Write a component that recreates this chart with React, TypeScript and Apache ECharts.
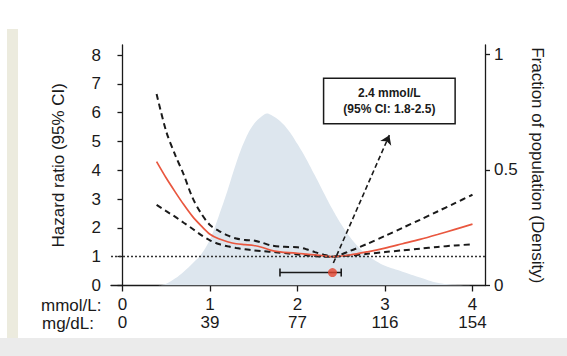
import React, { useEffect, useRef } from "react";
import * as echarts from "echarts";

const FONT = '"Liberation Sans", Arial, Helvetica, sans-serif';
const INK = "#1a1a1a";

// spline curves (mmol/L vs hazard ratio)
const curveX = [0.39, 0.5, 0.6, 0.7, 0.8, 0.9, 1.0, 1.1, 1.2, 1.3, 1.4, 1.5, 1.6, 1.7, 1.8, 1.9, 2.0, 2.1, 2.2, 2.3, 2.4, 2.6, 2.8, 3.0, 3.2, 3.4, 3.6, 3.8, 4.0];
const hrMid = [4.3, 3.73, 3.26, 2.81, 2.4, 2.07, 1.78, 1.62, 1.52, 1.45, 1.42, 1.39, 1.32, 1.22, 1.17, 1.14, 1.12, 1.09, 1.06, 1.03, 1.0, 1.06, 1.17, 1.3, 1.45, 1.6, 1.77, 1.95, 2.13];
const hrUpper = [6.65, 5.35, 4.55, 3.85, 3.05, 2.5, 2.1, 1.9, 1.74, 1.63, 1.58, 1.56, 1.48, 1.39, 1.35, 1.34, 1.33, 1.26, 1.16, 1.07, 1.0, 1.2, 1.45, 1.72, 2.0, 2.28, 2.57, 2.86, 3.15];
const hrLower = [2.8, 2.58, 2.39, 2.18, 1.97, 1.75, 1.57, 1.44, 1.36, 1.3, 1.26, 1.22, 1.19, 1.17, 1.14, 1.11, 1.08, 1.05, 1.02, 1.0, 1.0, 1.04, 1.1, 1.16, 1.22, 1.28, 1.34, 1.39, 1.43];

// population density
const densityX = [0.4, 0.5, 0.6, 0.7, 0.8, 0.9, 1.0, 1.1, 1.2, 1.3, 1.4, 1.5, 1.6, 1.65, 1.7, 1.8, 1.9, 2.0, 2.1, 2.2, 2.3, 2.4, 2.5, 2.6, 2.7, 2.8, 2.9, 3.0, 3.2, 3.4, 3.6, 3.8, 4.0];
const densityY = [0, 0.008, 0.03, 0.06, 0.095, 0.135, 0.2, 0.3, 0.41, 0.53, 0.63, 0.698, 0.735, 0.745, 0.738, 0.712, 0.67, 0.612, 0.548, 0.476, 0.402, 0.33, 0.265, 0.21, 0.165, 0.13, 0.105, 0.085, 0.06, 0.035, 0.012, 0.003, 0];

// ticks
const xTicks = [0, 1, 2, 3, 4];
const mgdlLabels = ["0", "39", "77", "116", "154"];
const yTicks = [0, 1, 2, 3, 4, 5, 6, 7, 8];
const densityTicks = [0, 0.5, 1];

// optimum estimate and annotation
const optimum = 2.4;
const ciLow = 1.8;
const ciHigh = 2.5;
const markerLevel = 0.45;
const arrowFrom = [2.41, 0.78];
const arrowTo = [3.05, 5.22];
const boxAt = [3.05, 6.41];
const annotationLines = ["2.4 mmol/L", "(95% CI: 1.8-2.5)"];

const zip = (xs: number[], ys: number[]) => xs.map((x, i) => [x, ys[i]]);

export default function App() {
  const ref = useRef<HTMLDivElement>(null);
  useEffect(() => {
    if (!ref.current) return;
    const chart = echarts.init(ref.current, null, { renderer: "svg" });
    const dashed = { color: INK, width: 2, type: [6, 4] as number[] };
    chart.setOption({
      animation: false,
      backgroundColor: "#ffffff",
      textStyle: { fontFamily: FONT },
      grid: { left: 111, right: 82, top: 45, bottom: 70.5, containLabel: false },
      xAxis: {
        type: "value",
        min: -0.131,
        max: 4.143,
        splitLine: { show: false },
        axisLine: { show: true, onZero: true, lineStyle: { color: INK, width: 1.3 } },
        axisTick: { show: true, length: 6, lineStyle: { color: INK, width: 1.3 }, customValues: xTicks },
        axisLabel: {
          customValues: xTicks,
          margin: 10,
          color: INK,
          fontSize: 17,
          lineHeight: 18,
          fontFamily: FONT,
          formatter: (v: number) => {
            const i = xTicks.indexOf(Math.round(v));
            return `${xTicks[i]}\n${mgdlLabels[i]}`;
          },
        },
      },
      yAxis: [
        {
          type: "value",
          min: 0,
          max: 8.35,
          position: "left",
          name: "Hazard ratio (95% CI)",
          nameLocation: "middle",
          nameGap: 44,
          nameRotate: 90,
          nameTextStyle: { fontSize: 17, color: INK, fontFamily: FONT },
          splitLine: { show: false },
          axisLine: { show: true, lineStyle: { color: INK, width: 1.3 } },
          axisTick: { show: true, length: 5, lineStyle: { color: INK, width: 1.3 }, customValues: yTicks },
          axisLabel: { customValues: yTicks, margin: 10, color: INK, fontSize: 17, fontFamily: FONT },
        },
        {
          type: "value",
          min: 0,
          max: 1.041,
          position: "right",
          name: "Fraction of population (Density)",
          nameLocation: "middle",
          nameGap: 34,
          nameRotate: -90,
          nameTextStyle: { fontSize: 17, color: INK, fontFamily: FONT },
          splitLine: { show: false },
          axisLine: { show: true, lineStyle: { color: INK, width: 1.3 } },
          axisTick: { show: true, length: 5, lineStyle: { color: INK, width: 1.3 }, customValues: densityTicks },
          axisLabel: {
            customValues: densityTicks,
            margin: 9,
            color: INK,
            fontSize: 17,
            fontFamily: FONT,
            formatter: (v: number) => String(v),
          },
        },
      ],
      graphic: [
        { type: "rect", z: -10, shape: { x: 0, y: 338, width: 567, height: 18 }, style: { fill: "#ebebeb" } },
        { type: "rect", z: -10, shape: { x: 7, y: 29, width: 11, height: 309 }, style: { fill: "#ecebde" } },
        { type: "text", left: 41, top: 297, style: { text: "mmol/L:", font: `17px ${FONT}`, fill: INK } },
        { type: "text", left: 42, top: 315, style: { text: "mg/dL:", font: `17px ${FONT}`, fill: INK } },
      ],
      series: [
        {
          type: "line",
          yAxisIndex: 1,
          data: zip(densityX, densityY),
          smooth: 0.4,
          showSymbol: false,
          silent: true,
          lineStyle: { width: 0 },
          areaStyle: { color: "#dde6ee", opacity: 1 },
          z: 1,
        },
        {
          type: "line",
          data: zip(curveX, hrUpper),
          smooth: 0.3,
          showSymbol: false,
          lineStyle: dashed,
          z: 3,
        },
        {
          type: "line",
          data: zip(curveX, hrLower),
          smooth: 0.3,
          showSymbol: false,
          lineStyle: dashed,
          z: 3,
        },
        {
          type: "line",
          data: zip(curveX, hrMid),
          smooth: 0.3,
          showSymbol: false,
          lineStyle: { color: "#e9573f", width: 1.7 },
          z: 4,
          markLine: {
            silent: true,
            symbol: "none",
            label: { show: false },
            lineStyle: { color: "#333", width: 1.3, type: [2, 2] },
            data: [{ yAxis: 1 }],
          },
        },
        {
          type: "line",
          data: [[ciLow, markerLevel], [ciHigh, markerLevel]],
          symbol: "rect",
          symbolSize: [1.6, 8],
          showSymbol: true,
          itemStyle: { color: INK },
          lineStyle: { color: INK, width: 1.6 },
          z: 5,
          markLine: {
            silent: true,
            symbol: ["none", "arrow"],
            symbolSize: 9,
            label: { show: false },
            lineStyle: { color: INK, width: 1.6, type: [5, 3] },
            data: [[{ coord: arrowFrom }, { coord: arrowTo }]],
          },
          markPoint: {
            silent: true,
            symbol: "rect",
            symbolSize: 1,
            itemStyle: { color: "rgba(0,0,0,0)" },
            label: {
              show: true,
              position: "inside",
              formatter: annotationLines.join("\n"),
              color: INK,
              fontWeight: "bold",
              fontSize: 12,
              lineHeight: 16,
              fontFamily: FONT,
              align: "center",
              backgroundColor: "#ffffff",
              borderColor: INK,
              borderWidth: 1.5,
              padding: [6, 19],
            },
            data: [{ coord: boxAt }],
          },
        },
        {
          type: "scatter",
          data: [[optimum, markerLevel]],
          symbolSize: 9,
          itemStyle: { color: "#e5452e" },
          z: 6,
        },
      ],
    });
    return () => chart.dispose();
  }, []);
  return <div ref={ref} style={{ position: "absolute", left: 0, top: 0, width: 567, height: 356 }} />;
}
